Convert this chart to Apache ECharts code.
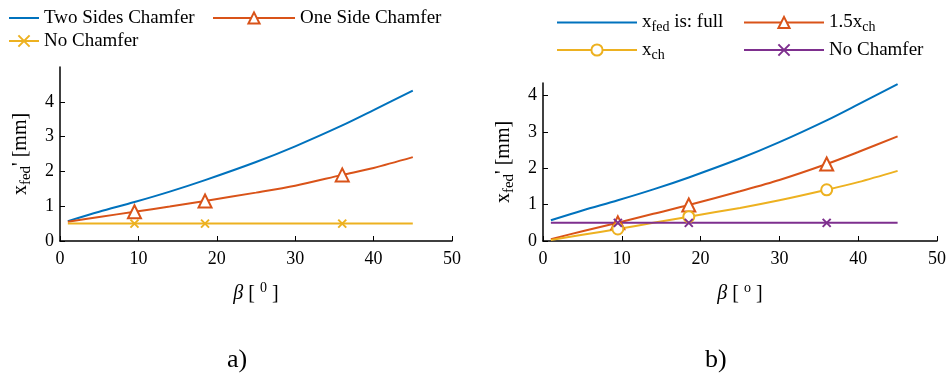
<!DOCTYPE html>
<html>
<head>
<meta charset="utf-8">
<script src="https://cdn.jsdelivr.net/npm/echarts@6/dist/echarts.min.js"></script>
<style>
  html, body { margin: 0; padding: 0; background: #fff; }
  #chart { width: 949px; height: 374px; }
</style>
</head>
<body>
<div id="chart"></div>
<script>
// beta values (deg) sampled along the curves, markers sit at 9.5, 18.5 and 36
const beta = [1, 5, 9.5, 14, 18.5, 25, 30, 36, 40, 45];
const markerIdx = [2, 4, 7];

// a) chamfer variants
const twoSides = [0.57, 0.84, 1.12, 1.42, 1.75, 2.27, 2.72, 3.32, 3.76, 4.32];
const oneSide = [0.55, 0.69, 0.84, 0.99, 1.15, 1.39, 1.59, 1.9, 2.1, 2.41];
const noChamferA = [0.5, 0.5, 0.5, 0.5, 0.5, 0.5, 0.5, 0.5, 0.5, 0.5];

// b) x_fed variants
const fedFull = [0.57, 0.84, 1.12, 1.42, 1.75, 2.27, 2.72, 3.32, 3.76, 4.32];
const fed15ch = [0.05, 0.27, 0.5, 0.75, 0.99, 1.37, 1.68, 2.12, 2.45, 2.88];
const fedCh = [0.03, 0.17, 0.33, 0.5, 0.67, 0.91, 1.12, 1.41, 1.62, 1.93];
const noChamferB = [0.5, 0.5, 0.5, 0.5, 0.5, 0.5, 0.5, 0.5, 0.5, 0.5];

const xTicks = [0, 10, 20, 30, 40, 50];
const yTicks = [0, 1, 2, 3, 4];

const BLUE = '#0072BD';
const ORANGE = '#D95319';
const YELLOW = '#EDB120';
const PURPLE = '#7E2F8E';
const FONT = '"Liberation Serif", "Times New Roman", serif';
const CROSS = 'path://M0,0L10,10M0,10L10,0';

function toData(vals, marked) {
  return vals.map((v, i) => {
    if (marked && markerIdx.indexOf(i) >= 0) return [beta[i], v];
    return { value: [beta[i], v], symbol: 'none' };
  });
}

function lineSeries(name, vals, color, grid, symbol, size) {
  return {
    name: name,
    type: 'line',
    xAxisIndex: grid,
    yAxisIndex: grid,
    data: toData(vals, !!symbol),
    smooth: 0.3,
    symbol: symbol || 'none',
    symbolSize: size || 0,
    showAllSymbol: true,
    lineStyle: { color: color, width: 2 },
    itemStyle: { color: color, borderColor: color, borderWidth: 2 },
    emphasis: { disabled: true },
  };
}

const rich = {
  n: { fontFamily: FONT, fontSize: 19, color: '#000', lineHeight: 24 },
  s: { fontFamily: FONT, fontSize: 14, color: '#000', lineHeight: 12, verticalAlign: 'bottom' },
  p: { fontFamily: FONT, fontSize: 14, color: '#000', lineHeight: 12, verticalAlign: 'top' },
  b: { fontFamily: FONT, fontSize: 20, color: '#000', fontStyle: 'italic', lineHeight: 24 },
  an: { fontFamily: FONT, fontSize: 20, color: '#000', lineHeight: 26 },
  as: { fontFamily: FONT, fontSize: 15, color: '#000', lineHeight: 13, verticalAlign: 'bottom' },
};

const legendNames = {
  'x_fed is: full': '{n|x}{s|fed}{n| is: full}',
  '1.5x_ch': '{n|1.5x}{s|ch}',
  'x_ch': '{n|x}{s|ch}',
  'No Chamfer (b)': '{n|No Chamfer}',
};

const noMarker = { opacity: 0 };

function xAxis(grid, sup) {
  return {
    type: 'value',
    gridIndex: grid,
    min: 0,
    max: 50,
    interval: 10,
    name: '{b|β}{an| [ }{p|' + sup + '}{an| ]}',
    nameLocation: 'middle',
    nameGap: 40,
    nameTextStyle: { rich: rich },
    axisLine: { lineStyle: { color: '#000', width: 1.5 } },
    axisTick: { inside: true, length: 5, lineStyle: { color: '#000' } },
    axisLabel: { color: '#000', fontFamily: FONT, fontSize: 18, margin: 9 },
    splitLine: { show: false },
  };
}

function yAxis(grid, max) {
  return {
    type: 'value',
    gridIndex: grid,
    min: 0,
    max: max,
    interval: 1,
    name: '{an|x}{as|fed}{an|\' [mm]}',
    nameLocation: 'middle',
    nameGap: 26,
    nameTextStyle: { rich: rich },
    axisLine: { show: true, lineStyle: { color: '#000', width: 1.5 } },
    axisTick: { show: true, inside: true, length: 5, customValues: yTicks, lineStyle: { color: '#000' } },
    axisLabel: { color: '#000', fontFamily: FONT, fontSize: 18, margin: 6, customValues: yTicks },
    splitLine: { show: false },
  };
}

const chart = echarts.init(document.getElementById('chart'));

const option = {
  animation: false,
  backgroundColor: '#fff',
  title: [
    { text: 'a)', left: 222, top: 342, textStyle: { fontFamily: FONT, fontSize: 26, fontWeight: 'normal', color: '#000' } },
    { text: 'b)', left: 700, top: 342, textStyle: { fontFamily: FONT, fontSize: 26, fontWeight: 'normal', color: '#000' } },
  ],
  legend: [
    {
      data: [{ name: 'Two Sides Chamfer', itemStyle: noMarker }, { name: 'No Chamfer' }],
      orient: 'vertical', left: 3, top: 3,
      itemWidth: 30, itemHeight: 14, itemGap: 3,
      textStyle: { fontFamily: FONT, fontSize: 19, color: '#000', lineHeight: 20 },
    },
    {
      data: ['One Side Chamfer'],
      orient: 'vertical', left: 207, top: 3,
      itemWidth: 82, itemHeight: 14, itemGap: 3,
      textStyle: { fontFamily: FONT, fontSize: 19, color: '#000', lineHeight: 20 },
    },
    {
      data: [{ name: 'x_fed is: full', itemStyle: noMarker }, { name: 'x_ch' }],
      orient: 'vertical', left: 551, top: 8,
      itemWidth: 80, itemHeight: 14, itemGap: 6,
      formatter: (name) => legendNames[name],
      textStyle: { rich: rich },
    },
    {
      data: ['1.5x_ch', 'No Chamfer (b)'],
      orient: 'vertical', left: 738, top: 8,
      itemWidth: 80, itemHeight: 14, itemGap: 6,
      formatter: (name) => legendNames[name],
      textStyle: { rich: rich },
    },
  ],
  grid: [
    { left: 60, right: 497, top: 67, bottom: 133 },
    { left: 543, right: 12, top: 83, bottom: 133 },
  ],
  xAxis: [xAxis(0, '0'), xAxis(1, 'o')],
  yAxis: [yAxis(0, 5), yAxis(1, 4.35)],
  series: [
    lineSeries('Two Sides Chamfer', twoSides, BLUE, 0),
    lineSeries('One Side Chamfer', oneSide, ORANGE, 0, 'emptyTriangle', 13),
    lineSeries('No Chamfer', noChamferA, YELLOW, 0, CROSS, 8),
    lineSeries('x_fed is: full', fedFull, BLUE, 1),
    lineSeries('1.5x_ch', fed15ch, ORANGE, 1, 'emptyTriangle', 13),
    lineSeries('x_ch', fedCh, YELLOW, 1, 'emptyCircle', 11),
    lineSeries('No Chamfer (b)', noChamferB, PURPLE, 1, CROSS, 8),
  ],
};

chart.setOption(option);
</script>
</body>
</html>
